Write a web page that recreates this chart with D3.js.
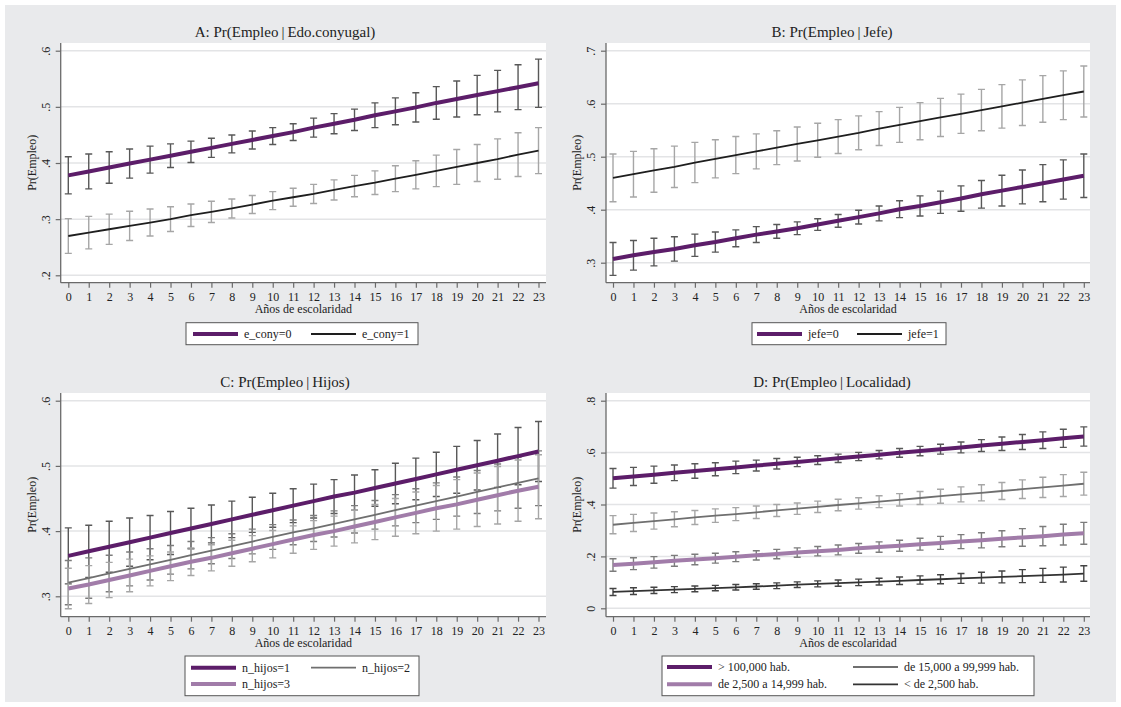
<!DOCTYPE html>
<html>
<head>
<meta charset="utf-8">
<script src="https://cdn.jsdelivr.net/npm/d3@7"></script>
<style>
  body { margin: 0; background: #fff; }
  svg text { font-family: "Liberation Serif", "DejaVu Serif", serif; fill: #222; }
</style>
</head>
<body>
<svg id="chart" width="1121" height="707"></svg>
<script>
// Años de escolaridad (x categories)
const years = [0,1,2,3,4,5,6,7,8,9,10,11,12,13,14,15,16,17,18,19,20,21,22,23];

// Tick values for each panel's y axis
const yTicksA = [0.2, 0.3, 0.4, 0.5, 0.6];
const yTicksB = [0.3, 0.4, 0.5, 0.6, 0.7];
const yTicksC = [0.3, 0.4, 0.5, 0.6];
const yTicksD = [0, 0.2, 0.4, 0.6, 0.8];

// A: estado conyugal — predicted probability and CI half-width
const econy0 = [0.378,0.385,0.392,0.399,0.406,0.413,0.420,0.427,0.434,0.441,0.448,0.455,0.463,0.470,0.477,0.485,0.492,0.499,0.507,0.514,0.521,0.528,0.535,0.542];
const econy0Err = [0.033,0.031,0.028,0.026,0.024,0.021,0.019,0.017,0.016,0.016,0.015,0.015,0.017,0.018,0.019,0.022,0.024,0.026,0.029,0.032,0.035,0.037,0.040,0.043];
const econy1 = [0.270,0.276,0.282,0.288,0.294,0.300,0.307,0.313,0.319,0.326,0.333,0.339,0.345,0.352,0.359,0.365,0.372,0.379,0.386,0.393,0.400,0.407,0.415,0.422];
const econy1Err = [0.031,0.029,0.027,0.026,0.024,0.022,0.020,0.019,0.017,0.016,0.016,0.016,0.017,0.018,0.019,0.021,0.023,0.025,0.028,0.031,0.033,0.036,0.039,0.041];

// B: jefe del hogar
const jefe0 = [0.307,0.314,0.320,0.326,0.333,0.339,0.346,0.353,0.359,0.365,0.372,0.379,0.386,0.393,0.401,0.407,0.414,0.421,0.429,0.436,0.443,0.450,0.457,0.464];
const jefe0Err = [0.031,0.028,0.026,0.023,0.021,0.019,0.016,0.015,0.013,0.012,0.011,0.012,0.013,0.014,0.016,0.019,0.021,0.024,0.026,0.029,0.032,0.035,0.037,0.041];
const jefe1 = [0.460,0.467,0.474,0.481,0.489,0.496,0.503,0.510,0.517,0.524,0.531,0.538,0.545,0.553,0.560,0.567,0.574,0.581,0.588,0.595,0.602,0.609,0.616,0.623];
const jefe1Err = [0.045,0.043,0.041,0.039,0.038,0.036,0.035,0.033,0.032,0.032,0.032,0.032,0.032,0.032,0.033,0.035,0.036,0.037,0.039,0.041,0.043,0.044,0.046,0.048];

// C: número de hijos
const hijos1 = [0.362,0.369,0.376,0.383,0.390,0.397,0.404,0.411,0.418,0.425,0.432,0.439,0.446,0.453,0.459,0.466,0.473,0.480,0.487,0.494,0.501,0.508,0.515,0.522];
const hijos1Err = [0.043,0.040,0.039,0.037,0.034,0.033,0.031,0.029,0.028,0.027,0.026,0.026,0.026,0.026,0.027,0.028,0.031,0.032,0.034,0.036,0.038,0.041,0.044,0.046];
const hijos2 = [0.321,0.328,0.335,0.342,0.349,0.356,0.363,0.370,0.377,0.384,0.391,0.398,0.404,0.411,0.418,0.425,0.432,0.439,0.446,0.453,0.460,0.467,0.474,0.481];
const hijos2Err = [0.034,0.031,0.028,0.026,0.024,0.022,0.021,0.020,0.019,0.019,0.019,0.019,0.020,0.020,0.021,0.022,0.024,0.026,0.028,0.030,0.033,0.036,0.039,0.042];
const hijos3 = [0.312,0.318,0.325,0.332,0.339,0.346,0.353,0.359,0.366,0.373,0.380,0.387,0.394,0.400,0.407,0.414,0.421,0.428,0.435,0.441,0.448,0.455,0.462,0.468];
const hijos3Err = [0.031,0.029,0.027,0.025,0.023,0.022,0.021,0.020,0.020,0.020,0.021,0.021,0.022,0.023,0.025,0.027,0.029,0.032,0.035,0.038,0.041,0.044,0.047,0.049];

// D: tamaño de localidad
const loc100k = [0.501,0.508,0.515,0.522,0.529,0.536,0.543,0.550,0.557,0.564,0.571,0.578,0.585,0.592,0.599,0.606,0.613,0.620,0.627,0.634,0.641,0.648,0.655,0.662];
const loc100kErr = [0.038,0.035,0.033,0.030,0.028,0.025,0.024,0.021,0.020,0.018,0.017,0.016,0.016,0.016,0.017,0.018,0.019,0.021,0.023,0.026,0.029,0.032,0.035,0.037];
const loc15k = [0.322,0.329,0.336,0.343,0.350,0.357,0.363,0.370,0.377,0.384,0.391,0.398,0.404,0.411,0.418,0.425,0.432,0.439,0.445,0.452,0.459,0.466,0.473,0.480];
const loc15kErr = [0.035,0.033,0.031,0.029,0.027,0.026,0.025,0.024,0.023,0.022,0.022,0.022,0.022,0.023,0.024,0.025,0.027,0.029,0.031,0.033,0.036,0.039,0.042,0.044];
const loc2500 = [0.167,0.172,0.177,0.183,0.188,0.193,0.199,0.204,0.209,0.215,0.220,0.225,0.231,0.236,0.241,0.247,0.252,0.257,0.262,0.268,0.273,0.278,0.284,0.289];
const loc2500Err = [0.024,0.023,0.022,0.021,0.020,0.019,0.019,0.018,0.018,0.018,0.018,0.019,0.019,0.020,0.021,0.023,0.025,0.027,0.029,0.031,0.034,0.037,0.040,0.042];
const locRural = [0.063,0.066,0.069,0.072,0.075,0.078,0.081,0.084,0.087,0.091,0.094,0.097,0.100,0.103,0.106,0.109,0.112,0.115,0.118,0.121,0.124,0.127,0.130,0.134];
const locRuralErr = [0.0135,0.013,0.012,0.0115,0.011,0.0105,0.0105,0.0105,0.011,0.011,0.0115,0.012,0.0125,0.013,0.0145,0.016,0.0175,0.019,0.021,0.023,0.025,0.027,0.0285,0.030];

// Styles
const PURPLE = "#5c1d69";
const LILAC = "#a17ca9";
const BLACK = "#1e1e1e";
const GREY_LINE = "#6f6f6f";
const BAR_DARK = "#585858";
const BAR_MID = "#7c7c7c";
const BAR_LIGHT = "#a6a6a6";

const svg = d3.select("#chart");
svg.append("rect").attr("x", 0).attr("y", 0).attr("width", 1121).attr("height", 707).attr("fill", "#fff");
svg.append("rect").attr("x", 5).attr("y", 5).attr("width", 1111).attr("height", 697).attr("fill", "#e9eaec");

const fmtTick = d => d === 0 ? "0" : String(d).replace(/^0/, "");

function drawPanel(p) {
  const g = svg.append("g");
  const x = d3.scaleLinear().domain([0, 23]).range([p.x0, p.x23]);
  const y = d3.scaleLinear().domain(p.yDom).range(p.yPx);

  // plot region
  g.append("rect").attr("x", p.left).attr("y", p.top)
    .attr("width", p.right - p.left).attr("height", p.bottom - p.top).attr("fill", "#fff");

  // gridlines
  g.append("g").selectAll("line").data(p.yTicks).join("line")
    .attr("x1", p.left).attr("x2", p.right)
    .attr("y1", d => y(d)).attr("y2", d => y(d))
    .attr("stroke", "#e3e4e6").attr("stroke-width", 1.5);

  // confidence intervals
  p.series.forEach(s => {
    const bars = g.append("g").attr("stroke", s.barColor).attr("stroke-width", 1.4).attr("fill", "none");
    const pts = years.map((yr, i) => ({ yr, lo: s.values[i] - s.err[i], hi: s.values[i] + s.err[i] }));
    bars.selectAll("path").data(pts).join("path")
      .attr("d", d => {
        const cx = x(d.yr), y1 = y(d.lo), y2 = y(d.hi);
        return `M${cx},${y1}V${y2}M${cx - 3.5},${y1}H${cx + 3.5}M${cx - 3.5},${y2}H${cx + 3.5}`;
      });
  });

  // predicted probability lines
  const lineGen = d3.line().x((d, i) => x(years[i])).y(d => y(d));
  p.series.forEach(s => {
    g.append("path").attr("d", lineGen(s.values))
      .attr("fill", "none").attr("stroke", s.color).attr("stroke-width", s.width);
  });

  // y axis
  const ay = g.append("g").attr("transform", `translate(${p.left},0)`)
    .call(d3.axisLeft(y).tickValues(p.yTicks).tickFormat(fmtTick).tickSize(5).tickSizeOuter(0));
  ay.select(".domain").remove();
  ay.selectAll(".tick line").attr("stroke", "#6a6a6a").attr("stroke-width", 1.2);
  ay.selectAll(".tick text")
    .attr("transform", "rotate(-90)")
    .attr("x", 0).attr("y", -11).attr("dy", 0)
    .attr("text-anchor", "middle")
    .style("font-size", "12px");
  g.append("line").attr("x1", p.left).attr("x2", p.left).attr("y1", p.top).attr("y2", p.bottom)
    .attr("stroke", "#6a6a6a").attr("stroke-width", 1.3);

  // x axis
  const ax = g.append("g").attr("transform", `translate(0,${p.bottom})`)
    .call(d3.axisBottom(x).tickValues(years).tickFormat(d3.format("d")).tickSize(5).tickSizeOuter(0));
  ax.select(".domain").remove();
  ax.selectAll(".tick line").attr("stroke", "#6a6a6a").attr("stroke-width", 1.2);
  ax.selectAll(".tick text").attr("y", 10).style("font-size", "12px");
  g.append("line").attr("x1", p.left).attr("x2", p.right).attr("y1", p.bottom).attr("y2", p.bottom)
    .attr("stroke", "#6a6a6a").attr("stroke-width", 1.3);

  // axis titles
  g.append("text").attr("x", (p.left + p.right) / 2).attr("y", p.bottom + 30.5)
    .attr("text-anchor", "middle").style("font-size", "12px").text("Años de escolaridad");
  g.append("text")
    .attr("transform", `translate(${p.yTitleX},${(p.top + p.bottom) / 2}) rotate(-90)`)
    .attr("text-anchor", "middle").style("font-size", "12px").text("Pr(Empleo)");

  // panel title
  g.append("text").attr("x", p.titleX).attr("y", p.top - 6)
    .attr("text-anchor", "middle").style("font-size", "15px").text(p.title);

  // legend
  const L = p.legend;
  g.append("rect").attr("x", L.x).attr("y", L.y).attr("width", L.w).attr("height", L.h)
    .attr("fill", "#fff").attr("stroke", "#555").attr("stroke-width", 1);
  L.items.forEach(it => {
    const s = p.series[it.s];
    g.append("line").attr("x1", it.x).attr("x2", it.x + L.sample).attr("y1", it.y).attr("y2", it.y)
      .attr("stroke", s.color).attr("stroke-width", s.width);
    g.append("text").attr("x", it.x + L.sample + 6).attr("y", it.y + 4)
      .style("font-size", "12px").text(s.label);
  });
}

const layoutLeft = { left: 60.7, right: 546, x0: 68.3, x23: 538.5, yTitleX: 35.5, titleX: 285 };
const layoutRight = { left: 606, right: 1090, x0: 613, x23: 1083.8, yTitleX: 580.5, titleX: 832 };

drawPanel(Object.assign({}, layoutLeft, {
  top: 43, bottom: 282.7, yDom: [0.2, 0.6], yPx: [275.3, 50.7], yTicks: yTicksA,
  title: "A: Pr(Empleo\u2009|\u2009Edo.conyugal)",
  series: [
    { label: "e_cony=0", values: econy0, err: econy0Err, color: PURPLE, width: 4, barColor: BAR_DARK },
    { label: "e_cony=1", values: econy1, err: econy1Err, color: BLACK, width: 1.8, barColor: BAR_LIGHT }
  ],
  legend: { x: 186, y: 322.7, w: 232, h: 22, sample: 45,
    items: [{ s: 0, x: 193, y: 334 }, { s: 1, x: 311, y: 334 }] }
}));

drawPanel(Object.assign({}, layoutRight, {
  top: 43, bottom: 282.7, yDom: [0.3, 0.7], yPx: [262.7, 50.7], yTicks: yTicksB,
  title: "B: Pr(Empleo\u2009|\u2009Jefe)",
  series: [
    { label: "jefe=0", values: jefe0, err: jefe0Err, color: PURPLE, width: 4, barColor: BAR_DARK },
    { label: "jefe=1", values: jefe1, err: jefe1Err, color: BLACK, width: 1.8, barColor: BAR_LIGHT }
  ],
  legend: { x: 752, y: 322.7, w: 194, h: 22, sample: 45,
    items: [{ s: 0, x: 757, y: 334 }, { s: 1, x: 857, y: 334 }] }
}));

drawPanel(Object.assign({}, layoutLeft, {
  top: 393, bottom: 616.7, yDom: [0.3, 0.6], yPx: [596.3, 400.7], yTicks: yTicksC,
  title: "C: Pr(Empleo\u2009|\u2009Hijos)",
  series: [
    { label: "n_hijos=1", values: hijos1, err: hijos1Err, color: PURPLE, width: 4, barColor: BAR_DARK },
    { label: "n_hijos=2", values: hijos2, err: hijos2Err, color: GREY_LINE, width: 1.8, barColor: BAR_MID },
    { label: "n_hijos=3", values: hijos3, err: hijos3Err, color: LILAC, width: 4, barColor: BAR_LIGHT }
  ],
  legend: { x: 185, y: 656, w: 234, h: 39.7, sample: 45,
    items: [{ s: 0, x: 191, y: 667.7 }, { s: 1, x: 311, y: 667.7 }, { s: 2, x: 191, y: 684 }] }
}));

drawPanel(Object.assign({}, layoutRight, {
  top: 393, bottom: 616.7, yDom: [0, 0.8], yPx: [608.3, 400.7], yTicks: yTicksD,
  title: "D: Pr(Empleo\u2009|\u2009Localidad)",
  series: [
    { label: "> 100,000 hab.", values: loc100k, err: loc100kErr, color: PURPLE, width: 4, barColor: BAR_DARK },
    { label: "de 15,000 a 99,999 hab.", values: loc15k, err: loc15kErr, color: GREY_LINE, width: 1.8, barColor: BAR_LIGHT },
    { label: "de 2,500 a 14,999 hab.", values: loc2500, err: loc2500Err, color: LILAC, width: 4, barColor: BAR_MID },
    { label: "< de 2,500 hab.", values: locRural, err: locRuralErr, color: "#333", width: 1.8, barColor: "#444" }
  ],
  legend: { x: 662, y: 656, w: 372, h: 39.7, sample: 45,
    items: [{ s: 0, x: 667, y: 667 }, { s: 1, x: 853, y: 667 }, { s: 2, x: 667, y: 684.3 }, { s: 3, x: 853, y: 684.3 }] }
}));
</script>
</body>
</html>
